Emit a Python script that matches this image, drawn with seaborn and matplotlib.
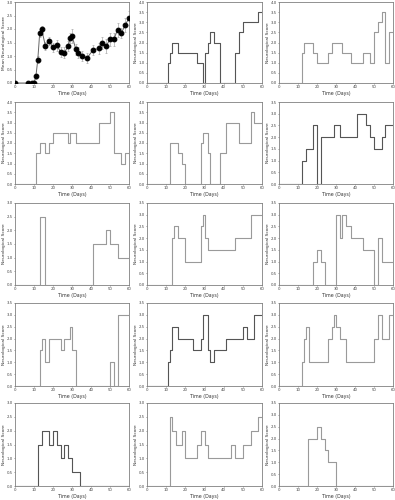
import numpy as np
import matplotlib
matplotlib.use("Agg")
import matplotlib.pyplot as plt
import seaborn as sns

# --- data: mean score panel ---
mean_days = [0, 7, 9, 10, 11, 12, 13, 14, 16, 18, 20, 22, 24, 26, 28, 29, 30, 32, 33, 35, 38,
             41, 44, 46, 48, 50, 52, 54, 56, 58, 60]
mean_score = [0, 0, 0, 0, 0.25, 0.87, 1.85, 2.0, 1.37, 1.55, 1.32, 1.4, 1.15, 1.12, 1.37, 1.67,
              1.75, 1.25, 1.12, 1.0, 0.93, 1.22, 1.28, 1.47, 1.37, 1.62, 1.62, 1.97, 1.85, 2.15, 2.4]
mean_err = [0, 0, 0, 0, 0.1, 0.13, 0.15, 0.1, 0.15, 0.15, 0.18, 0.2, 0.2, 0.2, 0.2, 0.2,
            0.25, 0.2, 0.2, 0.2, 0.18, 0.2, 0.2, 0.22, 0.25, 0.25, 0.25, 0.25, 0.2, 0.25, 0.25]

# --- data: individual animals (step changes: day, score) ---
d2 = [0, 11, 12, 13, 16, 26, 29, 30, 32, 33, 35, 38, 46, 48, 50, 58, 60]
s2 = [0, 1, 1.5, 2, 1.5, 1, 0, 1.5, 2, 2.5, 2, 0, 1.5, 2.5, 3, 3.5, 3.5]
d3 = [0, 12, 13, 18, 20, 26, 28, 33, 38, 44, 48, 50, 52, 54, 56, 58, 60]
s3 = [0, 1.5, 2, 1.5, 1, 1.5, 2, 1.5, 1, 1.5, 1, 2.5, 3, 3.5, 1, 2.5, 2.5]
d4 = [0, 11, 13, 16, 18, 20, 28, 29, 32, 44, 50, 52, 56, 58, 60]
s4 = [0, 1.5, 2, 1.5, 2, 2.5, 2, 2.5, 2, 3, 3.5, 1.5, 1, 1.5, 1.5]
d5 = [0, 12, 16, 18, 20, 28, 29, 32, 33, 38, 41, 48, 54, 56, 60]
s5 = [0, 2, 1.5, 1, 0, 2, 2.5, 1.5, 0, 1.5, 3, 2, 3.5, 3, 3]
d6 = [0, 12, 14, 18, 20, 22, 29, 32, 41, 46, 48, 50, 54, 56, 60]
s6 = [0, 1, 1.5, 2.5, 0, 2, 2.5, 2, 3, 2.5, 2, 1.5, 2, 2.5, 2.5]
d7 = [0, 13, 16, 41, 48, 50, 54, 60]
s7 = [0, 2.5, 0, 1.5, 2, 1.5, 1, 1]
d8 = [0, 13, 14, 16, 20, 28, 29, 30, 32, 46, 54, 60]
s8 = [0, 2, 2.5, 2, 1, 2.5, 3, 2, 1.5, 2, 3, 3]
d9 = [0, 18, 20, 22, 24, 30, 32, 33, 35, 38, 44, 50, 52, 54, 60]
s9 = [0, 1, 1.5, 1, 0, 3, 2, 3, 2.5, 2, 1.5, 0, 2, 1, 1]
d10 = [0, 13, 14, 16, 18, 24, 26, 29, 30, 32, 50, 52, 54, 60]
s10 = [0, 1.5, 2, 1, 2, 1.5, 2, 2.5, 1.5, 0, 1, 0, 3, 3]
d11 = [0, 11, 12, 13, 16, 24, 28, 29, 32, 33, 35, 41, 50, 52, 56, 60]
s11 = [0, 1, 1.5, 2.5, 2, 1.5, 2, 3, 1.5, 1, 1.5, 2, 2.5, 2, 3, 3]
d12 = [0, 12, 13, 14, 16, 26, 28, 29, 30, 32, 35, 50, 52, 54, 58, 60]
s12 = [0, 1, 2, 2.5, 1, 2, 2.5, 3, 2.5, 2, 1, 2, 3, 2, 3, 3]
d13 = [0, 12, 13, 14, 17, 18, 20, 22, 24, 26, 28, 30, 32, 34, 60]
s13 = [0, 1.5, 1.5, 2, 2, 1.5, 2, 1.5, 1, 1.5, 1, 0.5, 0.5, 0, 0]
d14 = [0, 12, 13, 15, 18, 20, 26, 28, 30, 32, 44, 46, 50, 54, 58, 60]
s14 = [0, 2.5, 2, 1.5, 2, 1, 1.5, 2, 1.5, 1, 1.5, 1, 1.5, 2, 2.5, 2.5]
d15 = [0, 15, 20, 22, 24, 26, 30, 60]
s15 = [0, 2, 2.5, 2, 1.5, 1, 0, 0]

panels = [
    (d2, s2, 4.0, "#555555"), (d3, s3, 4.0, "#9a9a9a"),
    (d4, s4, 4.0, "#9a9a9a"), (d5, s5, 4.0, "#9a9a9a"), (d6, s6, 3.5, "#555555"),
    (d7, s7, 3.0, "#9a9a9a"), (d8, s8, 3.5, "#9a9a9a"), (d9, s9, 3.5, "#9a9a9a"),
    (d10, s10, 3.5, "#9a9a9a"), (d11, s11, 3.5, "#555555"), (d12, s12, 3.5, "#9a9a9a"),
    (d13, s13, 3.0, "#555555"), (d14, s14, 3.0, "#9a9a9a"), (d15, s15, 3.5, "#9a9a9a"),
]

sns.set_style("ticks")
plt.rcParams["font.family"] = ["DejaVu Sans"]

W, H = 395, 500
fig = plt.figure(figsize=(W / 100, H / 100), dpi=100)

col_x = [(15, 129), (147, 262), (279, 393)]
row_y = [(2, 83), (102, 184), (203, 285), (303, 386), (403, 486)]
FS = 2.8


def make_ax(r, c):
    x0, x1 = col_x[c]
    y0, y1 = row_y[r]
    ax = fig.add_axes([x0 / W, 1 - y1 / H, (x1 - x0) / W, (y1 - y0) / H])
    for sp in ax.spines.values():
        sp.set_visible(True)
        sp.set_color("#808080")
        sp.set_linewidth(0.6)
    ax.tick_params(labelsize=FS, length=1.0, width=0.4, pad=0.6, colors="#444444")
    ax.set_xlim(0, 60)
    ax.set_xticks(range(0, 61, 10))
    ax.set_xlabel("Time (Days)", fontsize=FS + 0.6, labelpad=1.2, color="#333333")
    return ax


# mean panel
ax = make_ax(0, 0)
ax.errorbar(mean_days, mean_score, yerr=mean_err, fmt="none", ecolor="#aaaaaa",
            elinewidth=0.5, capsize=1.0, capthick=0.5, zorder=1)
sns.lineplot(x=mean_days, y=mean_score, ax=ax, color="#666666", linewidth=0.7,
             marker="o", markersize=3.4, markerfacecolor="black", markeredgecolor="black",
             zorder=3)
ax.set_ylim(0, 3.0)
ax.set_yticks(np.arange(0, 3.01, 0.5))
ax.set_yticklabels([f"{v:.1f}" for v in np.arange(0, 3.01, 0.5)])
ax.set_ylabel("Mean Neurological Score", fontsize=FS + 0.4, labelpad=0.6, color="#333333")

k = 0
for r in range(5):
    for c in range(3):
        if r == 0 and c == 0:
            continue
        days, score, ymax, col = panels[k]
        k += 1
        ax = make_ax(r, c)
        sns.lineplot(x=days, y=score, ax=ax, drawstyle="steps-post", color=col,
                     linewidth=0.8, estimator=None)
        ax.set_ylim(0, ymax)
        ticks = np.arange(0, ymax + 0.01, 0.5)
        ax.set_yticks(ticks)
        ax.set_yticklabels([f"{v:.1f}" for v in ticks])
        ax.set_ylabel("Neurological Score", fontsize=FS + 0.4, labelpad=0.6, color="#333333")

fig.savefig("out.png", dpi=100)
